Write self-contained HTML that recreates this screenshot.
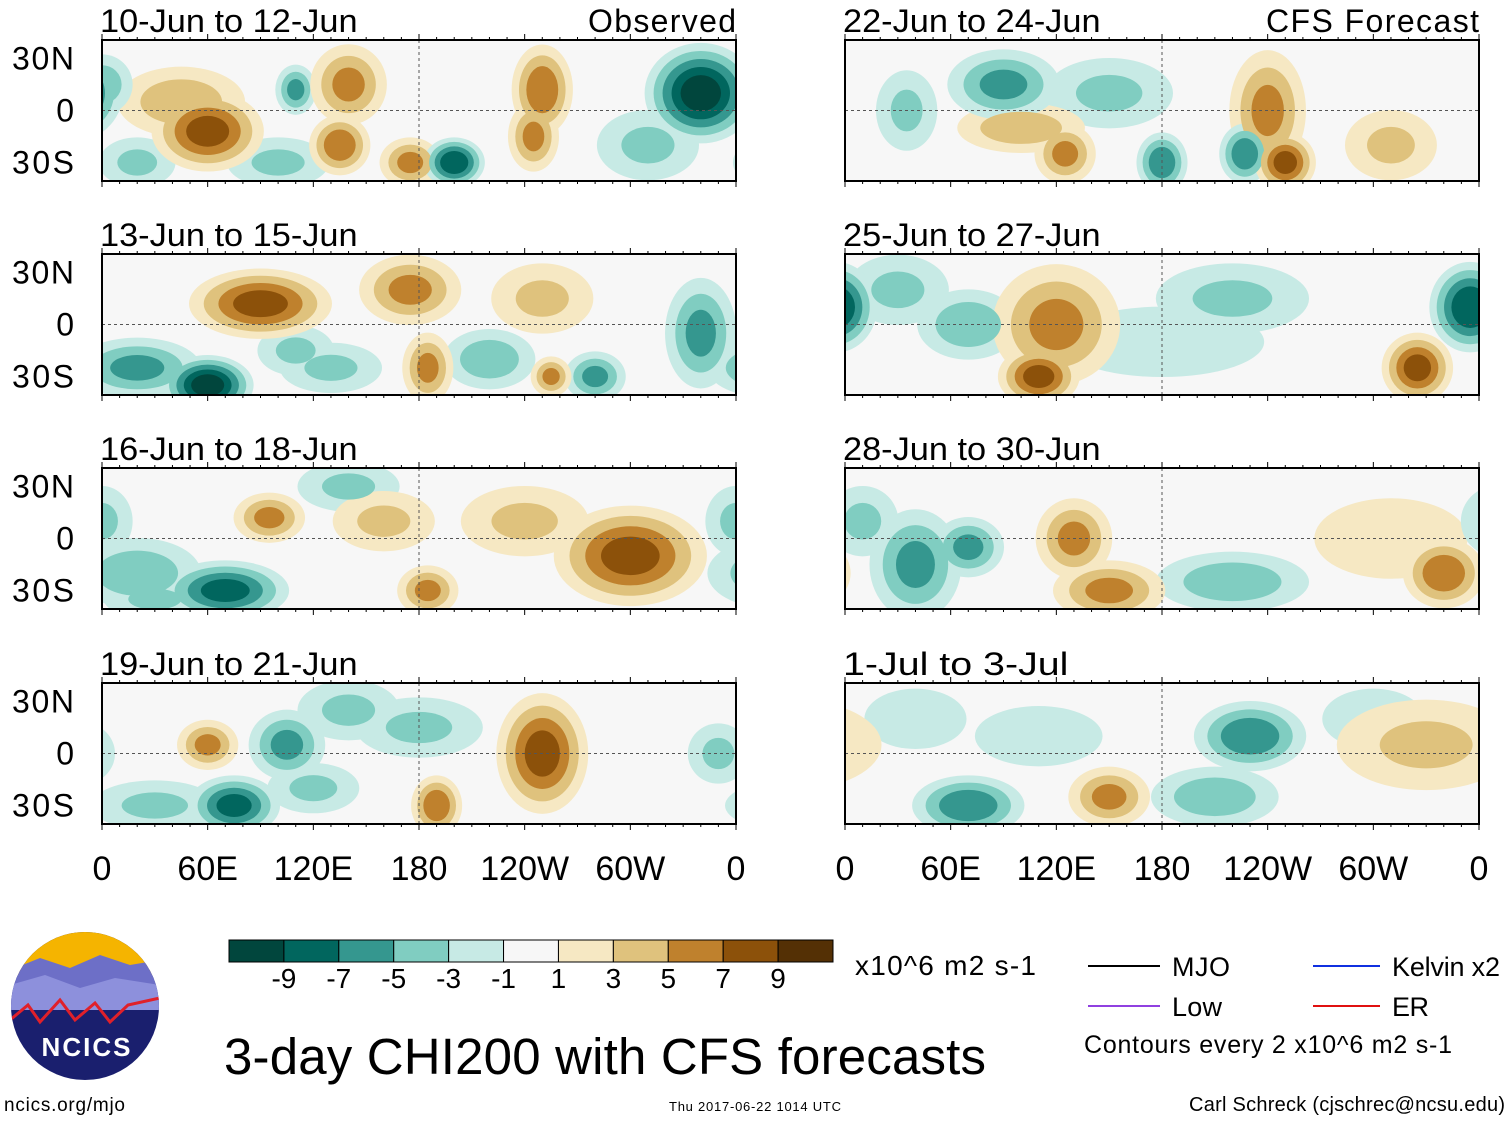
<!DOCTYPE html>
<html><head><meta charset="utf-8">
<style>
body{margin:0;background:#fff;}
svg text{font-family:"Liberation Sans",sans-serif;fill:#000;}
</style></head>
<body>
<svg id="chart" width="1510" height="1121" viewBox="0 0 1510 1121" xmlns="http://www.w3.org/2000/svg">
<defs id="defs"></defs>
<g id="panels"></g>
<g id="colorbar"></g>
<g>
<clipPath id="logoclip"><circle cx="85" cy="1006" r="74"/></clipPath>
<g clip-path="url(#logoclip)">
<rect x="10" y="930" width="150" height="150" fill="#1a1f6e"/>
<rect x="10" y="930" width="150" height="45" fill="#f5b400"/>
<path d="M10 970 L40 958 L70 968 L100 955 L130 965 L160 960 L160 990 L10 990Z" fill="#6d6fc7"/>
<path d="M10 985 L45 975 L80 988 L115 978 L160 985 L160 1010 L10 1010Z" fill="#8d90dc"/>
<path d="M10 1020 L28 1005 L40 1022 L60 1000 L75 1020 L95 1003 L110 1022 L128 1005 L160 998" fill="none" stroke="#e0202a" stroke-width="3"/>
</g>
<text x="87" y="1056" font-size="26" font-weight="bold" text-anchor="middle" style="fill:#fff" letter-spacing="2">NCICS</text>
</g>
<text x="4" y="1111" font-size="19" textLength="121">ncics.org/mjo</text>
<text x="669" y="1111" font-size="13" textLength="172">Thu 2017-06-22 1014 UTC</text>
<text x="1189" y="1111" font-size="20" textLength="316">Carl Schreck (cjschrec@ncsu.edu)</text>
<text x="224" y="1074" font-size="51" textLength="762">3-day CHI200 with CFS forecasts</text>
<text x="855" y="975" font-size="28" textLength="181">x10^6 m2 s-1</text>
<g>
<line x1="1088" y1="966" x2="1160" y2="966" stroke="#000" stroke-width="2"/><text x="1172" y="976" font-size="27" textLength="58">MJO</text>
<line x1="1313" y1="966" x2="1380" y2="966" stroke="#1030e0" stroke-width="2"/><text x="1392" y="976" font-size="27" textLength="108">Kelvin x2</text>
<line x1="1088" y1="1006" x2="1160" y2="1006" stroke="#9040e0" stroke-width="2"/><text x="1172" y="1016" font-size="27" textLength="50">Low</text>
<line x1="1313" y1="1006" x2="1380" y2="1006" stroke="#e01010" stroke-width="2"/><text x="1392" y="1016" font-size="27" textLength="37">ER</text>
<text x="1084" y="1053" font-size="25" textLength="368">Contours every 2 x10^6 m2 s-1</text>
</g>
</svg>
<script>
const levels = [-9,-7,-5,-3,-1,1,3,5,7,9];
const colors = ["#01463d","#01665e","#35978f","#80cdc1","#c7eae5","#f7f7f7","#f6e8c3","#dfc27d","#bf812d","#8c510a","#543005"];
const lonTicks = ["0","60E","120E","180","120W","60W","0"];
const latTicks = ["30N","0","30S"];
const panelTitles = ["10-Jun to 12-Jun","13-Jun to 15-Jun","16-Jun to 18-Jun","19-Jun to 21-Jun","22-Jun to 24-Jun","25-Jun to 27-Jun","28-Jun to 30-Jun","1-Jul to 3-Jul"];
// blobs: [lon, lat, value, lonRadius, latRadius]
const blobs0 = [[45,5,4,25,14],[60,-12,7,22,16],[0,15,-4,12,12],[110,12,-5,8,10],[140,15,5,15,16],[135,-20,6,12,12],[175,-30,5,12,10],[200,-30,-8,12,10],[250,12,6,12,18],[245,-15,5,10,14],[340,10,-9,22,20],[310,-20,-3,20,14],[100,-30,-3,20,10],[20,-30,-3,15,10]];
const blobs1 = [[90,12,7,28,14],[60,-35,-9,18,12],[20,-25,-5,25,12],[175,20,5,20,14],[185,-25,5,10,14],[250,15,3,20,14],[340,-5,-5,14,22],[220,-20,-4,18,12],[280,-30,-5,12,10],[255,-30,5,8,8],[110,-15,-3,15,10],[130,-25,-3,20,10]];
const blobs2 = [[300,-10,7,30,20],[70,-30,-7,25,12],[20,-20,-4,25,14],[95,12,5,14,10],[185,-30,5,12,10],[240,10,3,25,14],[140,30,-3,20,10],[0,10,-3,12,14],[160,10,3,20,12],[30,-35,-3,20,8]];
const blobs3 = [[250,0,7,18,24],[105,5,-5,15,14],[75,-30,-7,18,12],[60,5,5,12,10],[190,-30,6,10,12],[180,15,-3,25,12],[350,0,-3,12,12],[140,25,-3,20,12],[30,-30,-3,25,10],[120,-20,-3,18,10]];
const blobs4 = [[90,15,-5,22,14],[240,0,5,15,24],[250,-30,7,12,12],[100,-10,4,25,10],[125,-25,5,12,12],[150,10,-3,25,14],[180,-30,-6,10,12],[227,-25,-6,10,12],[35,0,-3,12,16],[310,-20,3,18,14]];
const blobs5 = [[120,0,5,25,24],[110,-30,7,16,12],[355,10,-8,16,18],[325,-25,7,14,14],[70,0,-4,20,14],[220,15,-3,30,14],[30,20,-3,20,14],[180,-10,-2,40,14]];
const blobs6 = [[130,0,5,15,16],[150,-30,5,22,12],[40,-15,-5,18,22],[70,-5,-5,14,12],[220,-25,-4,30,12],[340,-20,6,16,14],[10,10,-3,14,14],[310,0,2,30,16]];
const blobs7 = [[230,10,-6,22,14],[70,-30,-6,22,12],[210,-25,-4,25,12],[150,-25,5,16,12],[330,5,3,35,18],[300,20,-2,20,12],[40,20,-2,20,12],[110,10,-2,25,12]];
const allBlobs = [blobs0,blobs1,blobs2,blobs3,blobs4,blobs5,blobs6,blobs7];

const NS="http://www.w3.org/2000/svg";
function mk(tag,attrs,parent){const e=document.createElementNS(NS,tag);for(const k in attrs)e.setAttribute(k,attrs[k]);parent.appendChild(e);return e;}
const PW=634, PH=141;
const lefts=[102,845], tops=[40,254,468,683];
const panelsG=document.getElementById('panels');
const defs=document.getElementById('defs');
function colorFor(t){let idx=0; while(idx<levels.length && t>levels[idx]) idx++; return colors[idx];}
for(let p=0;p<8;p++){
  const col=p<4?0:1,row=p%4;
  const x0=lefts[col],y0=tops[row];
  const xs=lon=>x0+lon*PW/360;
  const ys=lat=>y0+PH/2-lat*(52/30);
  const g=mk('g',{},panelsG);
  
  
  const cp=mk('clipPath',{id:'cp'+p},defs);
  mk('rect',{x:x0,y:y0,width:PW,height:PH},cp);
  mk('rect',{x:x0,y:y0,width:PW,height:PH,fill:'#f7f7f7'},g);
  const fg=mk('g',{'clip-path':'url(#cp'+p+')'},g);
  const bl=allBlobs[p].slice().sort((a,b)=>Math.abs(a[2])-Math.abs(b[2]));
  for(const tstep of [1,3,5,7,9]){
    for(const b of bl){
      const v=Math.abs(b[2]); if(tstep>v) continue;
      const s=1.45*(1-0.72*(tstep-1)/v);
      const sign=b[2]<0?-1:1;
      const c=colorFor(sign*(tstep+0.5));
      for(const dx of [0,360,-360]){
        const e=mk('ellipse',{cx:xs(b[0]+dx),cy:ys(b[1]),rx:b[3]*s*PW/360,ry:b[4]*s*52/30,fill:c},fg);
        
        
      }
    }
  }
  mk('line',{x1:x0,y1:ys(0),x2:x0+PW,y2:ys(0),stroke:'#555','stroke-dasharray':'3,3'},g);
  mk('line',{x1:xs(180),y1:y0,x2:xs(180),y2:y0+PH,stroke:'#555','stroke-dasharray':'3,3'},g);
  mk('rect',{x:x0,y:y0,width:PW,height:PH,fill:'none',stroke:'#000','stroke-width':2},g);
  for(let i=0;i<=36;i++){const x=x0+i*PW/36,l=i%6==0?6:3;
    mk('line',{x1:x,y1:y0,x2:x,y2:y0-l,stroke:'#000'},g);mk('line',{x1:x,y1:y0+PH,x2:x,y2:y0+PH+l,stroke:'#000'},g);}
  const tl=panelTitles[p].length*16.1;
  const t=mk('text',{x:x0-2,y:y0-8,'font-size':32,textLength:tl,lengthAdjust:'spacingAndGlyphs'},g);t.textContent=panelTitles[p];
  
  
  if(col==0){
    [30,0,-30].forEach((lat,i)=>{const tt=mk('text',{x:74,y:ys(lat)+11,'font-size':32,'text-anchor':'end'},g);tt.textContent=latTicks[i];
      if(lat!==0){tt.setAttribute('textLength',62);}
      
      });
  }
  if(p==0){const o=mk('text',{x:x0+PW,y:y0-8,'font-size':32,'text-anchor':'end',textLength:148},g);o.textContent='Observed';
    
    }
  if(p==4){const o=mk('text',{x:x0+PW,y:y0-8,'font-size':32,'text-anchor':'end',textLength:213},g);o.textContent='CFS Forecast';
    
    }
  if(row==3){
    lonTicks.forEach((lb,i)=>{const tt=mk('text',{x:x0+i*PW/6,y:880,'font-size':34,'text-anchor':'middle'},g);tt.textContent=lb;
      
      });
  }
}
const cb=document.getElementById('colorbar');
const cbx=229,cbw=604/11;
colors.forEach((c,i)=>{const r=mk('rect',{x:cbx+i*cbw,y:940,width:cbw,height:22,fill:c,stroke:'#000'},cb);
  
  });
levels.forEach((lv,i)=>{const x=cbx+(i+1)*cbw;
  const tt=mk('text',{x:x,y:988,'font-size':28,'text-anchor':'middle'},cb);tt.textContent=String(lv);
  
  });
</script>
</body></html>
